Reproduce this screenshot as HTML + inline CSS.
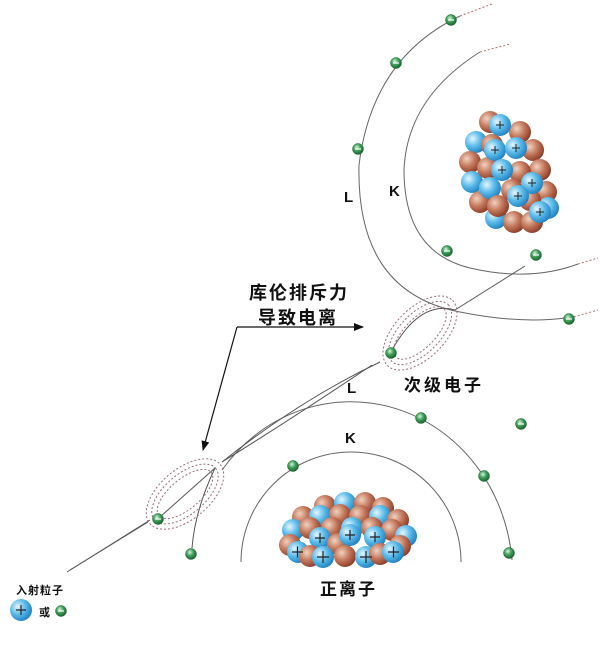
<!DOCTYPE html>
<html><head><meta charset="utf-8"><style>
html,body{margin:0;padding:0;background:#fff;}
svg{display:block;}
text{font-family:"Liberation Sans","Noto Sans CJK SC",sans-serif;}
.cjk{font-family:"Noto Serif CJK SC","Noto Sans CJK SC",serif;font-weight:bold;}
</style></head><body>
<svg width="600" height="651" viewBox="0 0 600 651" xmlns="http://www.w3.org/2000/svg">
<defs>
<radialGradient id="br" cx="0.35" cy="0.35" r="0.7"><stop offset="0" stop-color="#f0d2c0"/><stop offset="0.5" stop-color="#c57a5e"/><stop offset="1" stop-color="#8a3a26"/></radialGradient>
<radialGradient id="bl" cx="0.35" cy="0.35" r="0.7"><stop offset="0" stop-color="#e6f6ff"/><stop offset="0.5" stop-color="#5cbcea"/><stop offset="1" stop-color="#1d7fc0"/></radialGradient>
<radialGradient id="gr" cx="0.4" cy="0.35" r="0.7"><stop offset="0" stop-color="#d9f2df"/><stop offset="0.45" stop-color="#3fa05a"/><stop offset="1" stop-color="#155e2a"/></radialGradient>
<marker id="ah" markerWidth="10" markerHeight="8" refX="9" refY="4" orient="auto" markerUnits="userSpaceOnUse"><path d="M0,0 L10,4 L0,8 z" fill="#111"/></marker>
</defs>

<g fill="none" stroke="#666" stroke-width="1">
<path d="M460,16 Q372,58 359,165 Q356,292 460,312 Q520,324 565,318"/>
<path d="M480,52 Q407,98 404,170 Q404,252 470,268 Q530,282 578,264"/>
<path d="M222,470 A162,174 0 0 1 512,560"/>
<path d="M241,562 A110,110 0 0 1 461,562"/>
</g>
<g fill="none" stroke="#b07070" stroke-width="1" stroke-dasharray="2,2">
<path d="M460,16 L492,4"/><path d="M480,52 L510,44"/><path d="M578,264 L598,258"/><path d="M570,318 L598,310"/>
</g>

<g fill="none" stroke="#555" stroke-width="1">
<path d="M67,572 L150,520"/><path d="M70,570 L148,522"/>
<path d="M160,517 L215,468"/>
<path d="M222,462 Q300,400 380,362"/>
<path d="M222,462 Q290,420 372,365"/>
<path d="M455,310 L525,266"/>
<path d="M215,468 Q195,510 192,548"/>
<path d="M455,310 Q420,300 392,350"/>
</g>
<g fill="none" stroke="#9a6b7a" stroke-width="1" stroke-dasharray="2,2">
<ellipse cx="185" cy="494" rx="46" ry="25" transform="rotate(-40 185 494)"/>
<ellipse cx="185" cy="494" rx="40" ry="20" transform="rotate(-40 185 494)"/>
<ellipse cx="185" cy="494" rx="34" ry="15" transform="rotate(-40 185 494)"/>
<ellipse cx="420" cy="333" rx="46" ry="25" transform="rotate(-45 420 333)"/>
<ellipse cx="420" cy="333" rx="40" ry="20" transform="rotate(-45 420 333)"/>
<ellipse cx="420" cy="333" rx="34" ry="15" transform="rotate(-45 420 333)"/>
</g>

<path d="M237,327 L363,327" stroke="#111" stroke-width="1.2" fill="none" marker-end="url(#ah)"/>
<path d="M237,327 L203,450" stroke="#111" stroke-width="1.2" fill="none" marker-end="url(#ah)"/>

<g stroke="#1c5f2e" stroke-width="0.5">
<circle cx="451" cy="20" r="5.5" fill="url(#gr)"/>
<circle cx="396" cy="63" r="5.5" fill="url(#gr)"/>
<circle cx="358" cy="149" r="5.5" fill="url(#gr)"/>
<circle cx="447" cy="251" r="5.5" fill="url(#gr)"/>
<circle cx="536" cy="255" r="5.5" fill="url(#gr)"/>
<circle cx="569" cy="319" r="5.5" fill="url(#gr)"/>
<circle cx="391" cy="353" r="5.5" fill="url(#gr)"/>
<circle cx="421" cy="418" r="5.5" fill="url(#gr)"/>
<circle cx="521" cy="424" r="5.5" fill="url(#gr)"/>
<circle cx="293" cy="466" r="5.5" fill="url(#gr)"/>
<circle cx="484" cy="476" r="5.5" fill="url(#gr)"/>
<circle cx="509" cy="553" r="5.5" fill="url(#gr)"/>
<circle cx="158" cy="519" r="5.5" fill="url(#gr)"/>
<circle cx="191" cy="554" r="5.5" fill="url(#gr)"/>
<circle cx="61" cy="611" r="5.5" fill="url(#gr)"/>
</g>
<g stroke="#fff" stroke-width="1.2">
<path d="M448,20 h6"/><path d="M393,63 h6"/><path d="M355,149 h6"/><path d="M444,251 h6"/><path d="M533,255 h6"/><path d="M566,319 h6"/><path d="M518,424 h6"/><path d="M58,611 h6"/><path d="M155,519 h6"/>
</g>

<g stroke="none">
<circle cx="490" cy="122" r="11" fill="url(#br)"/>
<circle cx="520" cy="132" r="11" fill="url(#br)"/>
<circle cx="476" cy="142" r="11" fill="url(#bl)"/>
<circle cx="533" cy="150" r="11" fill="url(#br)"/>
<circle cx="470" cy="162" r="11" fill="url(#br)"/>
<circle cx="540" cy="170" r="11" fill="url(#br)"/>
<circle cx="472" cy="182" r="11" fill="url(#bl)"/>
<circle cx="546" cy="192" r="11" fill="url(#br)"/>
<circle cx="480" cy="202" r="11" fill="url(#br)"/>
<circle cx="548" cy="208" r="11" fill="url(#bl)"/>
<circle cx="496" cy="218" r="11" fill="url(#bl)"/>
<circle cx="514" cy="222" r="11" fill="url(#br)"/>
<circle cx="532" cy="222" r="11" fill="url(#br)"/>
<circle cx="492" cy="145" r="11" fill="url(#br)"/>
<circle cx="488" cy="168" r="11" fill="url(#br)"/>
<circle cx="490" cy="188" r="11" fill="url(#bl)"/>
<circle cx="498" cy="206" r="11" fill="url(#br)"/>
<circle cx="520" cy="172" r="11" fill="url(#br)"/>
<circle cx="512" cy="190" r="11" fill="url(#br)"/>
<circle cx="530" cy="200" r="11" fill="url(#br)"/>
<circle cx="500" cy="125" r="11" fill="url(#bl)"/>
<circle cx="495" cy="150" r="11" fill="url(#bl)"/>
<circle cx="516" cy="148" r="11" fill="url(#bl)"/>
<circle cx="502" cy="170" r="11" fill="url(#bl)"/>
<circle cx="532" cy="183" r="11" fill="url(#bl)"/>
<circle cx="518" cy="196" r="11" fill="url(#bl)"/>
<circle cx="540" cy="212" r="11" fill="url(#bl)"/>
</g>
<g stroke="#222" stroke-width="1">
<path d="M496,125h8M500,121v8"/><path d="M491,150h8M495,146v8"/><path d="M512,148h8M516,144v8"/><path d="M498,170h8M502,166v8"/><path d="M528,183h8M532,179v8"/><path d="M514,196h8M518,192v8"/><path d="M536,212h8M540,208v8"/>
</g>

<g>
<circle cx="325" cy="506" r="11" fill="url(#br)"/><circle cx="345" cy="503" r="11" fill="url(#bl)"/><circle cx="365" cy="503" r="11" fill="url(#br)"/><circle cx="383" cy="508" r="11" fill="url(#br)"/>
<circle cx="303" cy="517" r="11" fill="url(#br)"/><circle cx="320" cy="516" r="11" fill="url(#bl)"/><circle cx="340" cy="515" r="11" fill="url(#br)"/><circle cx="360" cy="516" r="11" fill="url(#br)"/><circle cx="380" cy="516" r="11" fill="url(#bl)"/><circle cx="398" cy="520" r="11" fill="url(#br)"/>
<circle cx="293" cy="530" r="11" fill="url(#bl)"/><circle cx="310" cy="528" r="11" fill="url(#br)"/><circle cx="332" cy="528" r="11" fill="url(#br)"/><circle cx="352" cy="528" r="11" fill="url(#bl)"/><circle cx="372" cy="528" r="11" fill="url(#br)"/><circle cx="392" cy="530" r="11" fill="url(#br)"/><circle cx="406" cy="536" r="11" fill="url(#bl)"/>
<circle cx="290" cy="545" r="11" fill="url(#br)"/><circle cx="320" cy="538" r="11" fill="url(#bl)"/><circle cx="338" cy="544" r="11" fill="url(#br)"/><circle cx="350" cy="535" r="11" fill="url(#bl)"/><circle cx="375" cy="537" r="11" fill="url(#bl)"/><circle cx="400" cy="546" r="11" fill="url(#br)"/>
<circle cx="298" cy="552" r="11" fill="url(#bl)"/><circle cx="310" cy="556" r="11" fill="url(#br)"/><circle cx="323" cy="557" r="11" fill="url(#bl)"/><circle cx="345" cy="556" r="11" fill="url(#br)"/><circle cx="366" cy="557" r="11" fill="url(#bl)"/><circle cx="380" cy="554" r="11" fill="url(#br)"/><circle cx="393" cy="552" r="11" fill="url(#bl)"/>
</g>
<g stroke="#222" stroke-width="1.2">
<path d="M292,552h11M297.5,546.5v11"/><path d="M317,557h12M323,551v12"/><path d="M360,557h12M366,551v12"/><path d="M388,552h11M393.5,546.5v11"/><path d="M315,538h10M320,533v10"/><path d="M345,535h10M350,530v10"/><path d="M370,537h10M375,532v10"/>
</g>

<circle cx="21" cy="610" r="11" fill="url(#bl)"/>
<path d="M16,610h10M21,605v10" stroke="#222" stroke-width="1.2"/>

<g font-weight="bold" font-size="15" fill="#111">
<text x="344" y="202">L</text><text x="389" y="196">K</text>
<text x="347" y="393">L</text><text x="345" y="443">K</text>
</g>
<g class="cjk" fill="#111">
<text x="249" y="299" font-size="18" letter-spacing="2">库伦排斥力</text>
<text x="258" y="324" font-size="18" letter-spacing="2">导致电离</text>
<text x="404" y="391" font-size="17" letter-spacing="3">次级电子</text>
<text x="320" y="595" font-size="17" letter-spacing="2">正离子</text>
<text x="16" y="594" font-size="11" letter-spacing="1">入射粒子</text>
<text x="39" y="616" font-size="11">或</text>
</g>
</svg>
</body></html>
